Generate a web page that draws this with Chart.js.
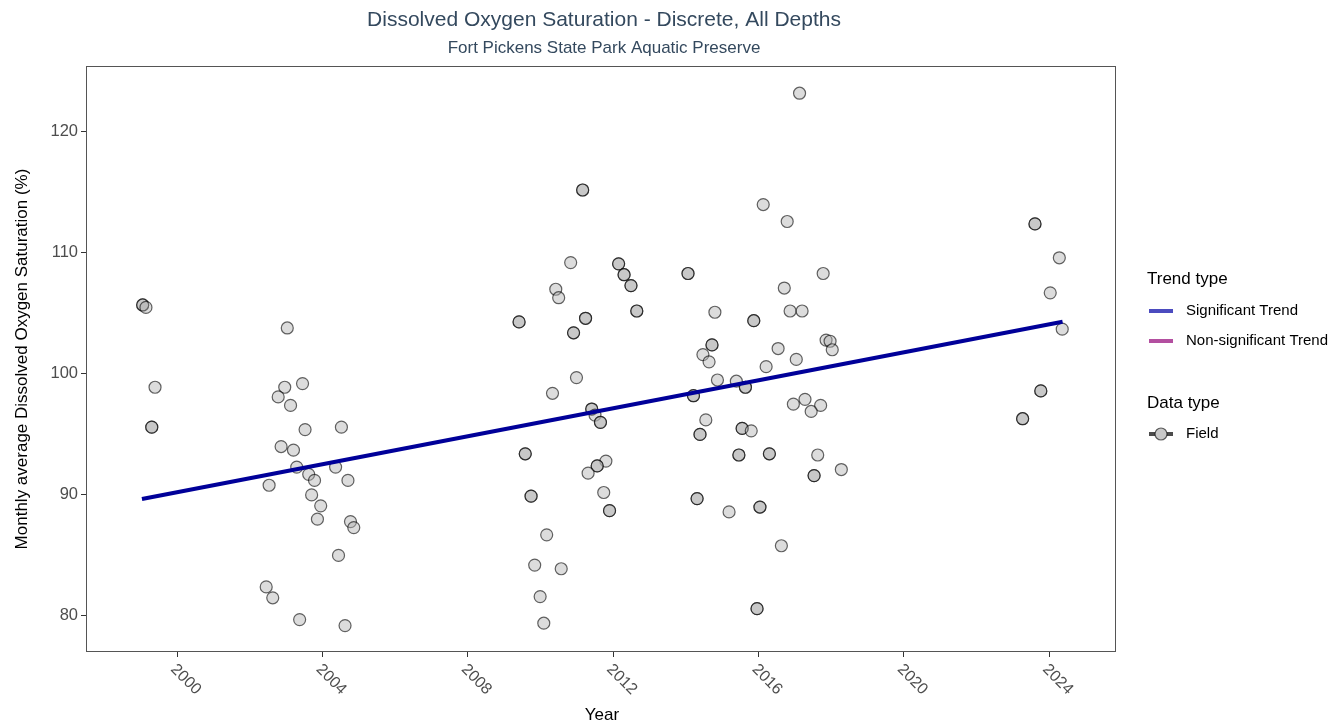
<!DOCTYPE html>
<html>
<head>
<meta charset="utf-8">
<script src="https://cdn.jsdelivr.net/npm/chart.js@4.4.1/dist/chart.umd.min.js"></script>
<style>
  html, body { margin: 0; padding: 0; background: #fff; }
  #wrap { width: 1333px; height: 726px; }
</style>
</head>
<body>
<div id="wrap"><canvas id="do-chart" width="1333" height="726"></canvas></div>
<script>
// monthly averages (decimal year, % saturation)
// points listed twice are the darker, overlapping ones
const sampleYear = [
    1999.05, 1999.05, 1999.14, 1999.39, 1999.30, 1999.30,
    2003.03, 2003.45, 2002.96, 2002.78, 2003.12, 2003.52, 2004.52, 2002.86, 2003.20,
    2003.29, 2003.62, 2003.78, 2004.36, 2004.70, 2002.53, 2003.70, 2003.95, 2003.86,
    2004.77, 2004.86, 2004.44, 2002.45, 2002.63, 2003.37, 2004.62,
    2011.16, 2011.16, 2010.83, 2012.15, 2012.15, 2012.30, 2012.30, 2012.49, 2012.49,
    2010.42, 2010.50, 2012.65, 2012.65, 2009.41, 2009.41, 2011.24, 2011.24, 2010.91, 2010.91,
    2010.99, 2010.33, 2011.41, 2011.41, 2011.50, 2011.65, 2011.65, 2009.58, 2009.58,
    2011.80, 2011.56, 2011.56, 2011.31, 2009.74, 2009.74, 2011.74, 2011.90, 2011.90,
    2010.17, 2009.84, 2010.57, 2009.99, 2010.09,
    2014.06, 2014.06, 2014.80, 2014.72, 2014.72, 2014.47, 2014.64, 2014.87, 2014.21, 2014.21,
    2014.55, 2014.39, 2014.39, 2014.31, 2014.31, 2015.19,
    2017.13, 2016.13, 2016.79, 2017.78, 2016.71, 2015.87, 2015.87, 2016.87, 2017.20,
    2017.86, 2017.97, 2018.03, 2016.54, 2017.04, 2016.21, 2015.39, 2015.64, 2015.64,
    2016.96, 2017.28, 2017.71, 2017.45, 2015.55, 2015.55, 2015.80, 2015.46, 2015.46,
    2016.30, 2016.30, 2017.63, 2017.53, 2017.53, 2018.28, 2016.04, 2016.04, 2016.63,
    2015.96, 2015.96,
    2023.61, 2023.61, 2024.28, 2024.03, 2024.36, 2023.77, 2023.77, 2023.27, 2023.27
];
const doSaturation = [
    105.7, 105.7, 105.5, 98.9, 95.6, 95.6,
    103.8, 99.2, 98.9, 98.1, 97.4, 95.4, 95.6, 94.0, 93.7,
    92.3, 91.7, 91.2, 92.3, 91.2, 90.8, 90.0, 89.1, 88.0,
    87.8, 87.3, 85.0, 82.4, 81.5, 79.7, 79.2,
    115.2, 115.2, 109.2, 109.1, 109.1, 108.2, 108.2, 107.3, 107.3,
    107.0, 106.3, 105.2, 105.2, 104.3, 104.3, 104.6, 104.6, 103.4, 103.4,
    99.7, 98.4, 97.1, 97.1, 96.6, 96.0, 96.0, 93.4, 93.4,
    92.8, 92.4, 92.4, 91.8, 89.9, 89.9, 90.2, 88.7, 88.7,
    86.7, 84.2, 83.9, 81.6, 79.4,
    108.3, 108.3, 105.1, 102.4, 102.4, 101.6, 101.0, 99.5, 98.2, 98.2,
    96.2, 95.0, 95.0, 89.7, 89.7, 88.6,
    123.2, 114.0, 112.6, 108.3, 107.1, 104.4, 104.4, 105.2, 105.2,
    102.8, 102.7, 102.0, 102.1, 101.2, 100.6, 99.4, 98.9, 98.9,
    97.5, 97.9, 97.4, 96.9, 95.5, 95.5, 95.3, 93.3, 93.3,
    93.4, 93.4, 93.3, 91.6, 91.6, 92.1, 89.0, 89.0, 85.8,
    80.6, 80.6,
    112.4, 112.4, 109.6, 106.7, 103.7, 98.6, 98.6, 96.3, 96.3
];

// fitted trend, start and end
const trendYear = [1999.03, 2024.37];
const trendValue = [89.67, 104.31];

const xTicks = [2000, 2004, 2008, 2012, 2016, 2020, 2024];
const yTicks = [80, 90, 100, 110, 120];

const titleText = 'Dissolved Oxygen Saturation - Discrete, All Depths';
const subtitleText = 'Fort Pickens State Park Aquatic Preserve';
const yTitle = 'Monthly average Dissolved Oxygen Saturation (%)';
const xTitle = 'Year';

const FONT = '"Liberation Sans", Arial, Helvetica, sans-serif';

const points = sampleYear.map((yr, i) => ({ x: yr, y: doSaturation[i] }));
const trend = trendYear.map((yr, i) => ({ x: yr, y: trendValue[i] }));

// titles, rotated year labels, frame and the two legends
const ggExtras = {
    id: 'ggExtras',
    afterDraw(chart) {
        const { ctx, chartArea: a, scales: { x } } = chart;
        const midX = (a.left + a.right) / 2;
        ctx.save();

        ctx.strokeStyle = '#555';
        ctx.lineWidth = 1;
        ctx.strokeRect(a.left + 0.5, a.top + 0.5, a.right - a.left - 1, a.bottom - a.top - 1);

        ctx.textAlign = 'center';
        ctx.textBaseline = 'middle';
        ctx.fillStyle = '#34495e';
        ctx.font = '21px ' + FONT;
        ctx.fillText(titleText, midX + 3, 20);
        ctx.font = '17px ' + FONT;
        ctx.fillText(subtitleText, midX + 3, 48);

        ctx.fillStyle = '#000';
        ctx.font = '17px ' + FONT;
        ctx.fillText(xTitle, midX + 1, 715);
        ctx.save();
        ctx.translate(22, (a.top + a.bottom) / 2);
        ctx.rotate(-Math.PI / 2);
        ctx.fillText(yTitle, 0, 0);
        ctx.restore();

        // year labels turned 45 degrees clockwise
        ctx.fillStyle = '#4d4d4d';
        ctx.font = '16px ' + FONT;
        ctx.textAlign = 'left';
        x.ticks.forEach(t => {
            const px = x.getPixelForValue(t.value);
            ctx.save();
            ctx.translate(px - 4, a.bottom + 15);
            ctx.rotate(Math.PI / 4);
            ctx.fillText(String(t.value), 0, 0);
            ctx.restore();
        });

        // legend
        const lx = 1147;
        ctx.fillStyle = '#000';
        ctx.font = '17px ' + FONT;
        ctx.fillText('Trend type', lx, 279);
        ctx.fillText('Data type', lx, 403);

        ctx.font = '15px ' + FONT;
        ctx.lineWidth = 4;
        ctx.strokeStyle = '#4b4bbf';
        ctx.beginPath(); ctx.moveTo(1149, 311); ctx.lineTo(1173, 311); ctx.stroke();
        ctx.fillText('Significant Trend', 1186, 311);
        ctx.strokeStyle = '#b34fa0';
        ctx.beginPath(); ctx.moveTo(1149, 341); ctx.lineTo(1173, 341); ctx.stroke();
        ctx.fillText('Non-significant Trend', 1186, 341);

        ctx.strokeStyle = 'rgba(0,0,0,0.7)';
        ctx.beginPath(); ctx.moveTo(1149, 434); ctx.lineTo(1173, 434); ctx.stroke();
        ctx.beginPath();
        ctx.arc(1161, 434, 6, 0, Math.PI * 2);
        ctx.fillStyle = '#c8c8c8';
        ctx.fill();
        ctx.lineWidth = 1.2;
        ctx.strokeStyle = 'rgba(0,0,0,0.6)';
        ctx.stroke();
        ctx.fillStyle = '#000';
        ctx.fillText('Field', 1186, 434);

        ctx.restore();
    }
};

new Chart(document.getElementById('do-chart'), {
    type: 'scatter',
    data: {
        datasets: [
            {
                type: 'line',
                label: 'Significant Trend',
                data: trend,
                borderColor: '#000099',
                borderWidth: 4,
                pointRadius: 0,
                fill: false,
                order: 0,
            },
            {
                label: 'Field',
                data: points,
                backgroundColor: 'rgba(174, 174, 174, 0.43)',
                borderColor: 'rgba(0, 0, 0, 0.6)',
                borderWidth: 1.2,
                pointRadius: 6,
                order: 1,
            }
        ]
    },
    options: {
        responsive: false,
        animation: false,
        events: [],
        layout: { padding: { top: 66, right: 217, left: 0, bottom: 0 } },
        plugins: {
            legend: { display: false },
            title: { display: false },
            tooltip: { enabled: false },
        },
        scales: {
            x: {
                type: 'linear',
                min: 1997.49,
                max: 2025.84,
                afterBuildTicks: s => { s.ticks = xTicks.map(v => ({ value: v })); },
                afterFit: s => { s.height = 74; },
                ticks: { display: false },
                grid: { drawOnChartArea: false, drawTicks: true, tickLength: 5, color: '#333', lineWidth: 1 },
                border: { display: false },
            },
            y: {
                min: 77.02,
                max: 125.45,
                afterBuildTicks: s => { s.ticks = yTicks.map(v => ({ value: v })); },
                afterFit: s => { s.width = 86; },
                ticks: { color: '#4d4d4d', font: { size: 16.5, family: FONT }, padding: 3 },
                grid: { drawOnChartArea: false, drawTicks: true, tickLength: 5, color: '#333', lineWidth: 1 },
                border: { display: false },
            }
        }
    },
    plugins: [ggExtras]
});
</script>
</body>
</html>
